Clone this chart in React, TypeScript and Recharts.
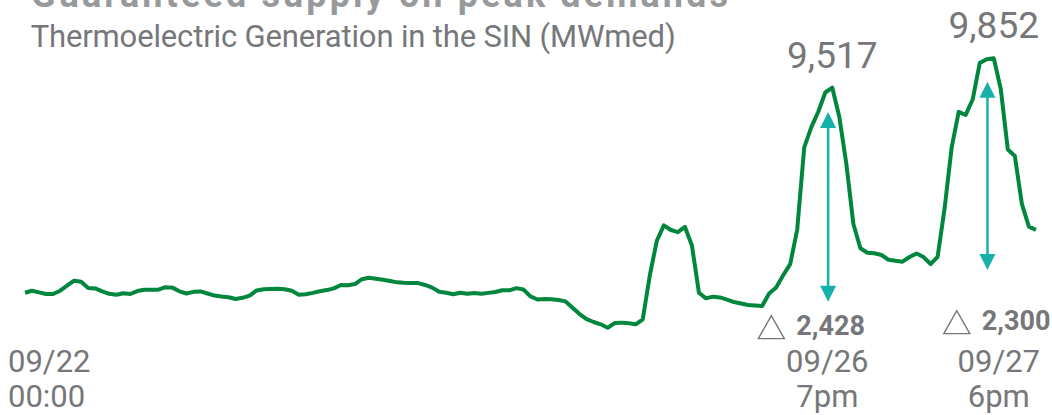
import { LineChart, Line, XAxis, YAxis, ReferenceLine, ReferenceDot } from "recharts";

// hourly thermoelectric generation (MWmed), 09/22 00:00 -> 09/28 00:00
const generation = [
  7180, 7202, 7184, 7166, 7165, 7203, 7262, 7317, 7304, 7233,
  7229, 7195, 7167, 7157, 7173, 7165, 7199, 7214, 7214, 7215,
  7243, 7238, 7196, 7171, 7190, 7195, 7171, 7147, 7137, 7129,
  7109, 7122, 7147, 7206, 7219, 7222, 7225, 7219, 7202, 7157,
  7162, 7178, 7196, 7210, 7230, 7268, 7265, 7279, 7334, 7350,
  7339, 7328, 7313, 7298, 7293, 7290, 7290, 7268, 7238, 7190,
  7180, 7162, 7180, 7168, 7176, 7168, 7178, 7188, 7208, 7207,
  7232, 7217, 7138, 7103, 7108, 7106, 7097, 7081, 7009, 6937,
  6878, 6846, 6820, 6781, 6834, 6839, 6831, 6820, 6877, 7376,
  7772, 7948, 7895, 7870, 7931, 7719, 7180, 7116, 7135, 7126,
  7102, 7074, 7057, 7040, 7034, 7028, 7172, 7240, 7379, 7506,
  7900, 8837, 9065, 9243, 9462, 9517, 9183, 8647, 7963, 7687,
  7636, 7629, 7610, 7556, 7544, 7534, 7587, 7628, 7586, 7507,
  7589, 8144, 8835, 9241, 9207, 9385, 9797, 9841, 9852, 9500,
  8812, 8739, 8193, 7933, 7897,
];

const tickHours = [0, 115, 138];
const tickDates = ["09/22", "09/26", "09/27"];
const tickTimes = ["00:00", "7pm", "6pm"];
const tickDeltas = ["", "2,428", "2,300"];

const peakHours = [115, 138];
const peakValues = [9517, 9852];
const peakLabels = ["9,517", "9,852"];

const arrowHours = [114.4, 137.1];
const arrowTops = [9240, 9585];
const arrowBottoms = [7077, 7439];

const data = generation.map((v, i) => ({ hour: i, value: v }));

const GREEN = "#00873d";
const TEAL = "#15b1aa";
const GRAY = "#76777a";
const FONT = "Roboto, sans-serif";

function Arrow(props: any) {
  const { x1, y1, y2 } = props;
  const hw = 8;
  const hh = 16;
  return (
    <g>
      <line x1={x1} y1={y1 + hh - 2} x2={x1} y2={y2 - hh + 2} stroke={TEAL} strokeWidth={2.5} />
      <polygon points={`${x1},${y1} ${x1 - hw},${y1 + hh} ${x1 + hw},${y1 + hh}`} fill={TEAL} />
      <polygon points={`${x1},${y2} ${x1 - hw},${y2 - hh} ${x1 + hw},${y2 - hh}`} fill={TEAL} />
    </g>
  );
}

function DateTick(props: any) {
  const { x, y, payload } = props;
  const i = tickHours.indexOf(payload.value);
  const layout = [
    { anchor: "start", dx: -17, tri: 0, num: 0, dy: 0 },
    { anchor: "middle", dx: -5, tri: -74, num: -36, dy: -9 },
    { anchor: "middle", dx: 5, tri: -50, num: -12, dy: -14 },
  ][i];
  const tx = x + layout.dx;
  const ty = y + layout.dy;
  return (
    <g fontFamily={FONT} fill={GRAY}>
      {tickDeltas[i] && (
        <g>
          <polygon
            points={`${x + layout.tri},${ty + 4} ${x + layout.tri + 26},${ty + 4} ${x + layout.tri + 13},${ty - 19}`}
            fill="none"
            stroke={GRAY}
            strokeWidth={1.4}
          />
          <text x={x + layout.num} y={ty} fontSize={27} fontWeight={700} textAnchor="start">
            {tickDeltas[i]}
          </text>
        </g>
      )}
      <text x={tx} y={y + 28} fontSize={31} textAnchor={layout.anchor}>
        {tickDates[i]}
      </text>
      <text x={tx} y={y + 63} fontSize={31} textAnchor={layout.anchor}>
        {tickTimes[i]}
      </text>
    </g>
  );
}

export default function App() {
  return (
    <div style={{ position: "absolute", left: 0, top: 0, width: 1052, height: 415, background: "#fff" }}>
      <LineChart
        width={1052}
        height={415}
        data={data}
        margin={{ top: 45.3, right: 16.1, bottom: 11.4, left: 25 }}
      >
        <XAxis
          dataKey="hour"
          type="number"
          domain={[0, 144]}
          ticks={tickHours}
          interval={0}
          axisLine={false}
          tickLine={false}
          tickSize={0}
          tickMargin={0}
          height={60}
          tick={<DateTick />}
        />
        <YAxis hide domain={[6600, 10000]} allowDataOverflow />
        {arrowHours.map((h, i) => (
          <ReferenceLine
            key={"a" + i}
            segment={[
              { x: h, y: arrowTops[i] },
              { x: h, y: arrowBottoms[i] },
            ]}
            shape={(p: any) => <Arrow {...p} />}
          />
        ))}
        <Line
          type="linear"
          dataKey="value"
          stroke={GREEN}
          strokeWidth={4}
          strokeLinejoin="round"
          dot={false}
          isAnimationActive={false}
        />
        {peakHours.map((h, i) => (
          <ReferenceDot
            key={"p" + i}
            x={h}
            y={peakValues[i]}
            r={0}
            shape={(p: any) => (
              <text x={p.cx} y={p.cy - 20} textAnchor="middle" fontSize={37} fontFamily={FONT} fill={GRAY}>
                {peakLabels[i]}
              </text>
            )}
          />
        ))}
      </LineChart>
      <svg
        width={1052}
        height={415}
        style={{ position: "absolute", left: 0, top: 0, pointerEvents: "none" }}
      >
        <text x={31} y={6.7} fontSize={36} fontWeight={700} fontFamily={FONT} fill="#98999b" textLength={697} lengthAdjust="spacing">
          Guaranteed supply on peak demands
        </text>
        <text x={30.7} y={46.7} fontSize={31} fontFamily={FONT} fill={GRAY} textLength={645} lengthAdjust="spacing">
          Thermoelectric Generation in the SIN (MWmed)
        </text>
      </svg>
    </div>
  );
}
